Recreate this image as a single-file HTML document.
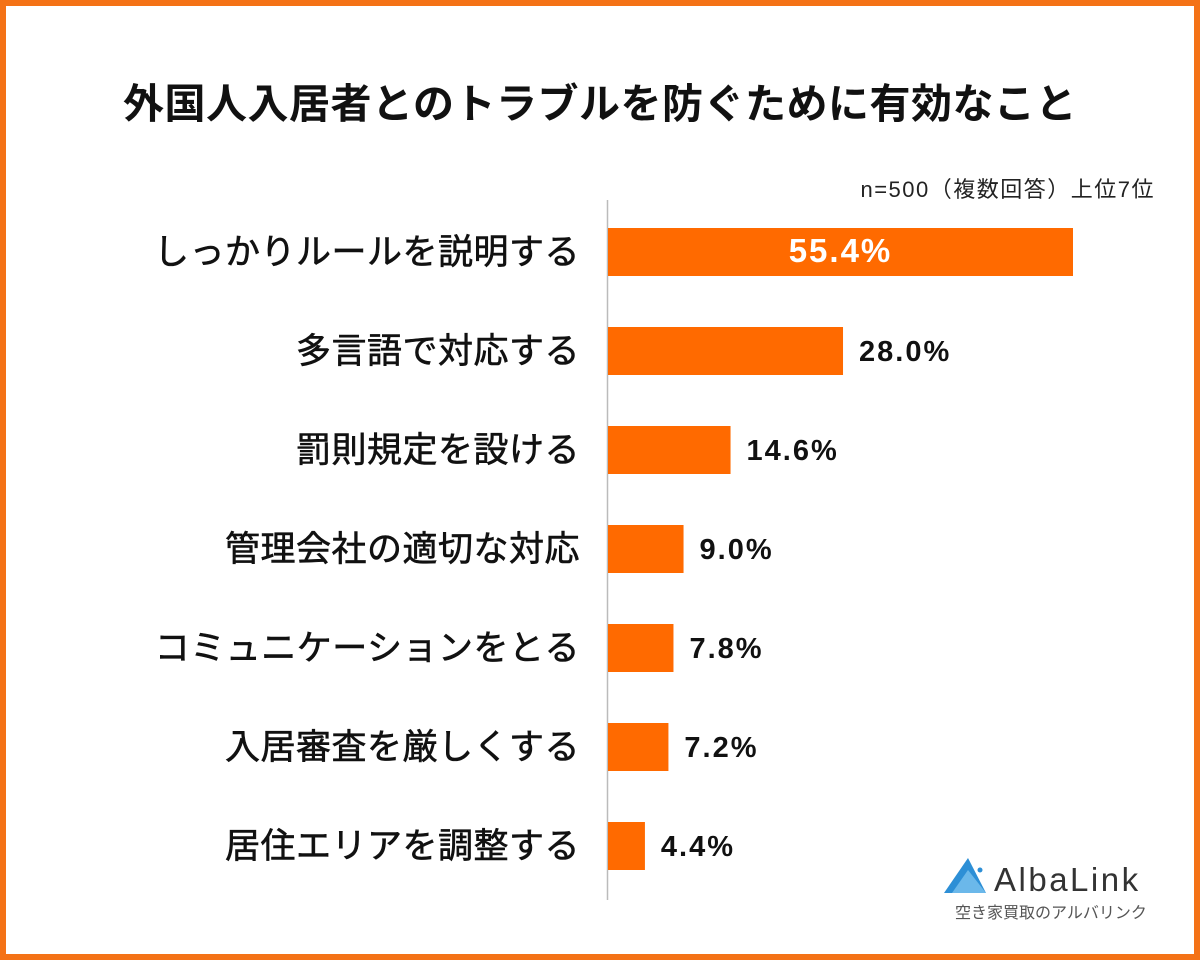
<!DOCTYPE html>
<html><head><meta charset="utf-8"><style>
body{margin:0;width:1200px;height:960px;overflow:hidden;background:#fff;}
#frame{position:absolute;left:0;top:0;width:1188px;height:948px;border:6px solid #f47216;background:#fff;}
svg{position:absolute;left:0;top:0;}
text{font-family:"Liberation Sans","Noto Sans CJK JP",sans-serif;}
</style></head><body>
<div id="frame"></div>
<svg width="1200" height="960" id="chart">
<text x="600" y="118" text-anchor="middle" font-size="41" letter-spacing="0.5" font-weight="bold" fill="#111">外国人入居者とのトラブルを防ぐために有効なこと</text>
<text x="1155" y="197" text-anchor="end" font-size="22" letter-spacing="1.5" fill="#222">n=500（複数回答）上位7位</text>
<line x1="607.5" y1="200" x2="607.5" y2="900" stroke="#bbb" stroke-width="1.5"/>
<g id="bars"></g>
<g>
<polygon points="944,893 968,858 986,893" fill="#2d8fd6"/>
<polygon points="952,893 968,870 986,893" fill="#6bb8ea"/>
<circle cx="980" cy="870" r="2.5" fill="#2d8fd6"/>
<text x="994" y="891" font-size="33" fill="#333" letter-spacing="2.5">AlbaLink</text>
<text x="955" y="918" font-size="16" fill="#555">空き家買取のアルバリンク</text>
</g>
</svg>
<script>
const categories=["しっかりルールを説明する","多言語で対応する","罰則規定を設ける","管理会社の適切な対応","コミュニケーションをとる","入居審査を厳しくする","居住エリアを調整する"];
const values=[55.4,28.0,14.6,9.0,7.8,7.2,4.4];
const labels=["55.4%","28.0%","14.6%","9.0%","7.8%","7.2%","4.4%"];
const x0=608,pxPer=465/55.4,y0=252,step=99,bh=48;
const xs=v=>x0+v*pxPer, ys=i=>y0+i*step;
const g=document.getElementById('bars'),NS='http://www.w3.org/2000/svg';
categories.forEach((c,i)=>{
 const r=document.createElementNS(NS,'rect');
 r.setAttribute('x',x0);r.setAttribute('y',ys(i)-bh/2);
 r.setAttribute('width',xs(values[i])-x0);r.setAttribute('height',bh);r.setAttribute('fill','#ff6a00');
 
 
 g.appendChild(r);
 const t=document.createElementNS(NS,'text');
 t.setAttribute('x',580);t.setAttribute('y',ys(i)+12);t.setAttribute('text-anchor','end');
 t.setAttribute('font-size','35');t.setAttribute('letter-spacing','0.5');t.setAttribute('fill','#111');t.setAttribute('stroke','#111');t.setAttribute('stroke-width','0.6');t.textContent=c;
 
 
 g.appendChild(t);
 const v=document.createElementNS(NS,'text');
 const inside=i===0;
 v.setAttribute('x',inside?(x0+xs(values[i]))/2:xs(values[i])+16);
 v.setAttribute('y',ys(i)+10);
 v.setAttribute('text-anchor',inside?'middle':'start');
 v.setAttribute('font-size',inside?'33':'29');
 v.setAttribute('letter-spacing','2');
 v.setAttribute('font-weight','bold');
 v.setAttribute('fill',inside?'#fff':'#111');
 v.textContent=labels[i];
 
 
 g.appendChild(v);
});
</script>
</body></html>
